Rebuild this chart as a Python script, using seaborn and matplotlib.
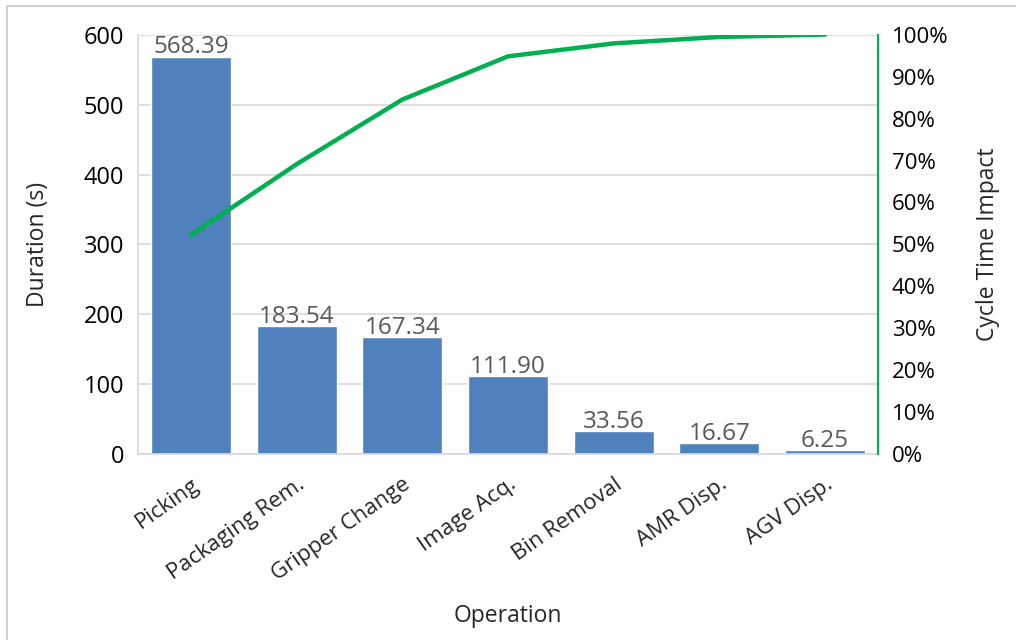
import matplotlib
matplotlib.use("Agg")
import matplotlib.pyplot as plt
import seaborn as sns
import numpy as np
import pandas as pd
from matplotlib.ticker import PercentFormatter

operations = ["Picking", "Packaging Rem.", "Gripper Change", "Image Acq.",
              "Bin Removal", "AMR Disp.", "AGV Disp."]
durations = [568.39, 183.54, 167.34, 111.90, 33.56, 16.67, 6.25]

df = pd.DataFrame({"Operation": operations, "Duration": durations})
df["Cumulative"] = df["Duration"].cumsum() / df["Duration"].sum() * 100

sns.set_theme(style="white")
plt.rcParams["font.family"] = ["Open Sans", "DejaVu Sans"]

fig = plt.figure(figsize=(10.16, 6.4), dpi=100)
ax = fig.add_axes([0.136, 0.29, 0.728, 0.656])

bar_color = "#4F81BD"
line_color = "#00B050"
grid_color = "#D9D9D9"

sns.barplot(data=df, x="Operation", y="Duration", color=bar_color,
            saturation=1, width=0.76, ax=ax, zorder=2)
for i, v in enumerate(durations):
    ax.text(i, v - 4, f"{v:.2f}", ha="center", va="bottom", fontsize=17.5,
            color="#595959", zorder=4)

ax.set_ylim(0, 600)
ax.set_xlim(-0.5, len(operations) - 0.5)
ax.set_yticks(np.arange(0, 601, 100))
ax.yaxis.grid(True, color=grid_color, linewidth=1.2, zorder=0)
ax.set_axisbelow(True)
ax.tick_params(axis="y", labelsize=17, length=0, pad=10, colors="black")
ax.tick_params(axis="x", labelsize=16, length=0, pad=14)
plt.setp(ax.get_xticklabels(), rotation=35, ha="right", rotation_mode="anchor")
ax.set_ylabel("Duration (s)", fontsize=16.5, labelpad=24)
ax.set_xlabel("Operation", fontsize=16.5, labelpad=14)
for side in ["top", "right"]:
    ax.spines[side].set_visible(False)
ax.spines["left"].set_color(grid_color)
ax.spines["bottom"].set_color(grid_color)
ax.spines["left"].set_linewidth(1.2)
ax.spines["bottom"].set_linewidth(1.2)

ax2 = ax.twinx()
sns.lineplot(x=np.arange(len(operations)), y=df["Cumulative"].values,
             color=line_color, linewidth=3.2, ax=ax2, zorder=5,
             solid_capstyle="round")
ax2.set_ylim(0, 100)
ax2.set_yticks(np.arange(0, 101, 10))
ax2.yaxis.set_major_formatter(PercentFormatter(decimals=0))
ax2.tick_params(axis="y", labelsize=16, length=0, pad=10, colors="black")
ax2.set_ylabel("Cycle Time Impact", fontsize=16.5, labelpad=20)
for side in ["top", "left", "bottom"]:
    ax2.spines[side].set_visible(False)
ax2.spines["right"].set_color(line_color)
ax2.spines["right"].set_linewidth(1.5)
ax2.grid(False)

# light frame around the chart area (open toward the right and bottom edges)
fig.patches.append(plt.Rectangle((0.007, -0.1), 1.2, 0.1 + 0.9906,
                                 transform=fig.transFigure, fill=False,
                                 edgecolor="#C8C8C8", linewidth=1.2))

fig.savefig("out.png", dpi=100)
